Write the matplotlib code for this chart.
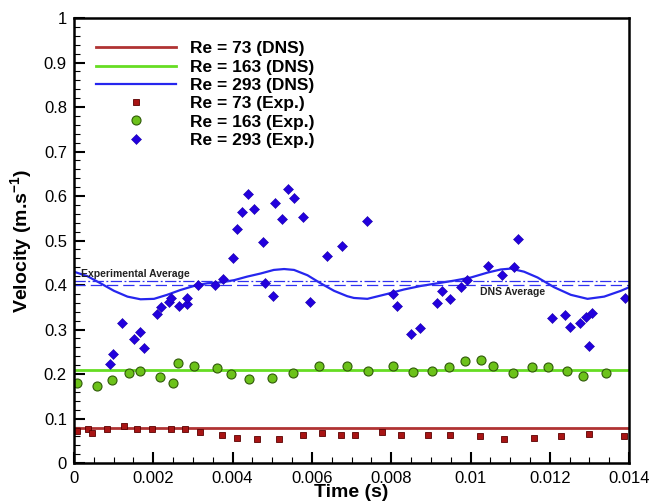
import numpy as np
import matplotlib
matplotlib.use('Agg')
import matplotlib.pyplot as plt
from matplotlib.ticker import MultipleLocator, FixedLocator

# experimental points, Re = 73
tRe73 = [0.000067, 0.00036, 0.00046, 0.00084, 0.00127, 0.00158, 0.00196, 0.00246,
         0.0028, 0.00318, 0.00373, 0.0041, 0.00461, 0.00518, 0.00578, 0.00625,
         0.00673, 0.0071, 0.00778, 0.00824, 0.00894, 0.00948, 0.01024, 0.01085,
         0.01159, 0.01229, 0.01299, 0.01386]
vRe73 = [0.073, 0.077, 0.067, 0.076, 0.083, 0.076, 0.076, 0.076,
         0.076, 0.070, 0.063, 0.056, 0.053, 0.055, 0.062, 0.068,
         0.064, 0.064, 0.069, 0.064, 0.064, 0.064, 0.061, 0.054,
         0.056, 0.061, 0.065, 0.061]

# experimental points, Re = 163
tRe163 = [0.000084, 0.00059, 0.00097, 0.00139, 0.00166, 0.00217, 0.0025, 0.00263,
          0.00303, 0.00361, 0.00395, 0.00441, 0.00499, 0.00553, 0.00619, 0.00688,
          0.00742, 0.00805, 0.00856, 0.00902, 0.00947, 0.00985, 0.01026, 0.01056,
          0.01108, 0.01155, 0.01195, 0.01243, 0.01283, 0.01342]
vRe163 = [0.180, 0.174, 0.187, 0.202, 0.207, 0.193, 0.179, 0.224,
          0.218, 0.214, 0.199, 0.188, 0.190, 0.202, 0.218, 0.219,
          0.207, 0.219, 0.205, 0.207, 0.216, 0.229, 0.232, 0.219,
          0.203, 0.215, 0.216, 0.207, 0.196, 0.202]

# experimental points, Re = 293
tRe293 = [0.00091, 0.00099, 0.00122, 0.00151, 0.00166, 0.00177, 0.0021, 0.0022,
          0.0024, 0.00245, 0.00265, 0.00284, 0.00286, 0.00313, 0.00356, 0.00376,
          0.00401, 0.00412, 0.00423, 0.0044, 0.00454, 0.00478, 0.00481, 0.00503,
          0.00506, 0.00525, 0.0054, 0.00555, 0.00578, 0.00595, 0.00637, 0.00675,
          0.00738, 0.00805, 0.00814, 0.00849, 0.00873, 0.00916, 0.00929, 0.00948,
          0.00975, 0.00992, 0.01043, 0.01079, 0.0111, 0.01121, 0.01206, 0.01238,
          0.01251, 0.01275, 0.01292, 0.01306, 0.01298, 0.01389]
vRe293 = [0.222, 0.246, 0.314, 0.279, 0.294, 0.258, 0.335, 0.351,
          0.362, 0.370, 0.353, 0.357, 0.370, 0.400, 0.400, 0.413,
          0.461, 0.525, 0.564, 0.604, 0.570, 0.496, 0.405, 0.376,
          0.585, 0.548, 0.615, 0.596, 0.553, 0.362, 0.466, 0.488,
          0.544, 0.381, 0.354, 0.290, 0.304, 0.359, 0.387, 0.368,
          0.395, 0.411, 0.443, 0.422, 0.441, 0.503, 0.325, 0.333,
          0.306, 0.315, 0.329, 0.338, 0.263, 0.371]

# DNS curves
tDNS = [0, 0.00034, 0.00067, 0.00101, 0.00135, 0.00168, 0.00202, 0.00235,
        0.00269, 0.00303, 0.00336, 0.0037, 0.00404, 0.00437, 0.00471, 0.00504,
        0.0053, 0.00555, 0.00589, 0.00622, 0.00656, 0.00689, 0.00706, 0.00740,
        0.00790, 0.00832, 0.00875, 0.00917, 0.00959, 0.01001, 0.01043, 0.01076,
        0.01102, 0.01135, 0.01169, 0.01211, 0.01253, 0.01295, 0.01337, 0.01379,
        0.014]
vDNS293 = [0.430, 0.420, 0.404, 0.387, 0.374, 0.368, 0.369, 0.378,
           0.389, 0.398, 0.404, 0.406, 0.411, 0.419, 0.426, 0.434,
           0.436, 0.434, 0.422, 0.404, 0.387, 0.375, 0.371, 0.369,
           0.380, 0.390, 0.398, 0.404, 0.410, 0.417, 0.428, 0.435,
           0.437, 0.430, 0.417, 0.395, 0.378, 0.369, 0.374, 0.387,
           0.395]
tLine = [0, 0.014]
vDNS73 = [0.078, 0.078]
vDNS163 = [0.209, 0.209]

avgExp = 0.409
avgDNS = 0.401

xticks = [0, 0.002, 0.004, 0.006, 0.008, 0.010, 0.012, 0.014]
xticklabels = ['0', '0.002', '0.004', '0.006', '0.008', '0.01', '0.012', '0.014']
yticks = [0, 0.1, 0.2, 0.3, 0.4, 0.5, 0.6, 0.7, 0.8, 0.9, 1]
yticklabels = ['0', '0.1', '0.2', '0.3', '0.4', '0.5', '0.6', '0.7', '0.8', '0.9', '1']


def setupFonts():
    plt.rcParams['font.family'] = ['Liberation Sans', 'DejaVu Sans']
    plt.rcParams['mathtext.fontset'] = 'custom'
    plt.rcParams['mathtext.rm'] = 'Liberation Sans'
    plt.rcParams['mathtext.bf'] = 'Liberation Sans:bold'


def plotVelocity():
    fig = plt.figure(figsize=(6.54, 5.03), dpi=100)
    ax = fig.add_axes([0.113, 0.0795, 0.849, 0.8845])

    # DNS lines
    ax.plot(tLine, vDNS73, color='#b03333', lw=2, label='Re = 73 (DNS)')
    ax.plot(tLine, vDNS163, color='#66dd22', lw=2, label='Re = 163 (DNS)')
    ax.plot(tDNS, vDNS293, color='#2626ee', lw=1.6, label='Re = 293 (DNS)')

    # averages
    ax.axhline(avgExp, color='#3030f0', lw=0.9, ls=(0, (9, 2, 1.5, 2)))
    ax.axhline(avgDNS, color='#3030f0', lw=0.9, ls=(0, (9, 4)))
    ax.text(0.00017, avgExp + 0.004, 'Experimental Average', fontsize=7.5,
            fontweight='bold', color='#222222', va='bottom')
    ax.text(0.01025, avgDNS - 0.006, 'DNS Average', fontsize=7.5,
            fontweight='bold', color='#222222', va='top')

    # experimental points
    ax.plot(tRe73, vRe73, ls='none', marker='s', ms=4.3, mfc='#a81414',
            mec='#5a0000', mew=0.6, label='Re = 73 (Exp.)')
    ax.plot(tRe163, vRe163, ls='none', marker='o', ms=6.5, mfc='#6cc21a',
            mec='#2f5a08', mew=0.8, label='Re = 163 (Exp.)')
    ax.plot(tRe293, vRe293, ls='none', marker='D', ms=5.0, mfc='#2200dd',
            mec='#1a00aa', mew=0.4, label='Re = 293 (Exp.)')

    ax.set_xlim(0, 0.014)
    ax.set_ylim(0, 1)
    ax.xaxis.set_major_locator(FixedLocator(xticks))
    ax.set_xticklabels(xticklabels)
    ax.yaxis.set_major_locator(FixedLocator(yticks))
    ax.set_yticklabels(yticklabels)
    ax.xaxis.set_minor_locator(MultipleLocator(0.0005))
    ax.yaxis.set_minor_locator(MultipleLocator(0.02))
    ax.tick_params(which='both', direction='in', top=False, right=False,
                   labelsize=12, color='black')
    ax.tick_params(which='major', length=8, width=1.5)
    ax.tick_params(which='minor', length=4, width=0.8)
    ax.tick_params(axis='x', pad=6)
    ax.tick_params(axis='y', pad=5)
    for sp in ax.spines.values():
        sp.set_linewidth(1.8)

    ax.set_xlabel('Time (s)', fontsize=14, fontweight='bold', labelpad=-2)
    ax.set_ylabel(r'Velocity (m.s$^{\mathbf{-1}}$)', fontsize=14,
                  fontweight='bold', labelpad=6)

    ax.legend(loc='upper left', bbox_to_anchor=(0.04, 0.948), frameon=False,
              prop={'weight': 'bold', 'size': 12.5}, handlelength=4.6,
              handletextpad=0.8, labelspacing=0.18, borderpad=0,
              borderaxespad=0, numpoints=1)

    fig.savefig('out.png', dpi=100)


if __name__ == "__main__":
    setupFonts()
    plotVelocity()
